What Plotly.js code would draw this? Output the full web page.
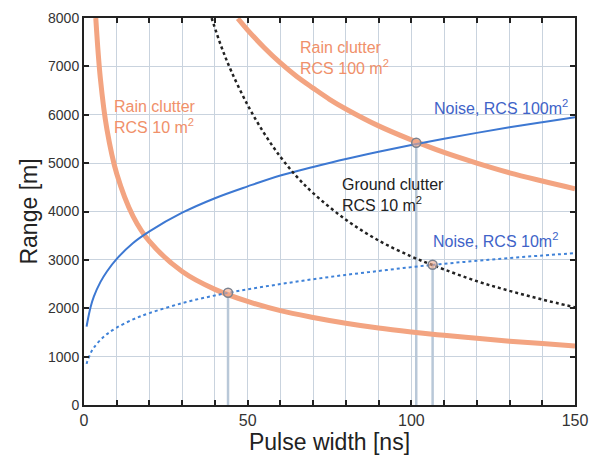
<!DOCTYPE html>
<html>
<head>
<meta charset="utf-8">
<script src="https://cdn.plot.ly/plotly-3.0.1.min.js"></script>
<style>html,body{margin:0;padding:0;background:#fff;}#chart{width:591px;height:457px;}</style>
</head>
<body>
<div id="chart"></div>
<script>
// Noise-limited range, RCS 100 m^2 (solid blue)
const noise100X = [0.8, 1, 2, 3, 5, 7, 10, 15, 20, 30, 40, 50, 60, 70, 80, 90, 100, 110, 120, 130, 140, 150];
const noise100Y = [1620, 1700, 2020, 2240, 2540, 2760, 3020, 3350, 3590, 3975, 4275, 4520, 4745, 4920, 5085, 5235, 5375, 5505, 5625, 5740, 5845, 5950];
// Noise-limited range, RCS 10 m^2 (dotted blue)
const noise10X = [0.8, 1, 2, 3, 5, 7, 10, 15, 20, 30, 40, 50, 60, 70, 80, 90, 100, 110, 120, 130, 140, 150];
const noise10Y = [850, 900, 1070, 1185, 1345, 1465, 1600, 1770, 1900, 2105, 2265, 2390, 2500, 2600, 2690, 2770, 2850, 2920, 2980, 3040, 3090, 3140];
// Rain clutter, RCS 10 m^2 (orange)
const rain10X = [3.6, 5, 7, 10, 15, 20, 30, 40, 50, 60, 70, 80, 90, 100, 110, 120, 130, 140, 150];
const rain10Y = [8000, 6750, 5700, 4780, 3900, 3380, 2760, 2390, 2140, 1950, 1810, 1690, 1590, 1510, 1440, 1380, 1320, 1270, 1220];
// Rain clutter, RCS 100 m^2 (orange)
const rain100X = [47, 50, 55, 60, 65, 70, 75, 80, 90, 100, 110, 120, 130, 140, 150];
const rain100Y = [7990, 7750, 7390, 7070, 6790, 6550, 6320, 6120, 5770, 5480, 5220, 5000, 4800, 4630, 4470];
// Ground clutter, RCS 10 m^2 (black dotted)
const groundX = [39, 42, 45, 50, 55, 60, 65, 70, 80, 90, 100, 107, 120, 130, 140, 150];
const groundY = [8000, 7400, 6900, 6200, 5620, 5130, 4720, 4380, 3830, 3400, 3070, 2880, 2560, 2360, 2180, 2020];
// Intersection markers
const crossX = [44, 101.5, 106.5];
const crossY = [2320, 5420, 2900];
// Tick labels
const xTicks = [0, 50, 100, 150];
const yTicks = [0, 1000, 2000, 3000, 4000, 5000, 6000, 7000, 8000];

const orange = '#f3a481';
const traces = [];
crossX.forEach((cx, i) => {
  traces.push({x: [cx, cx], y: [0, crossY[i]], mode: 'lines', line: {color: '#b9c8d8', width: 2.5}, hoverinfo: 'skip', showlegend: false});
});
traces.push({x: rain10X, y: rain10Y, mode: 'lines', line: {color: orange, width: 5, shape: 'spline'}, showlegend: false});
traces.push({x: rain100X, y: rain100Y, mode: 'lines', line: {color: orange, width: 5, shape: 'spline'}, showlegend: false});
traces.push({x: noise100X, y: noise100Y, mode: 'lines', line: {color: '#3d78d2', width: 2, shape: 'spline'}, showlegend: false});
traces.push({x: noise10X, y: noise10Y, mode: 'lines', line: {color: '#3f82d8', width: 2, dash: 'dot', shape: 'spline'}, showlegend: false});
traces.push({x: groundX, y: groundY, mode: 'lines', line: {color: '#222', width: 2.5, dash: 'dot', shape: 'spline'}, showlegend: false});
traces.push({x: crossX, y: crossY, mode: 'markers', marker: {size: 9, color: 'rgba(240,170,140,0.6)', line: {color: '#7a8290', width: 1.5}}, showlegend: false});

const tf = {family: 'Liberation Sans, Arial, sans-serif'};
const ann = (x, y, text, color, xanchor) => ({x, y, xref: 'x', yref: 'y', text, showarrow: false, xanchor: xanchor || 'left', yanchor: 'middle', align: 'left', font: Object.assign({size: 16, color}, tf)});

const layout = {
  width: 591, height: 457,
  margin: {l: 84, r: 16, t: 18, b: 52},
  paper_bgcolor: '#fff', plot_bgcolor: '#fff',
  font: Object.assign({color: '#222'}, tf),
  xaxis: {
    range: [0, 150], tickvals: xTicks, ticktext: xTicks.map(String),
    ticks: 'inside', ticklen: 5, tickwidth: 2, tickcolor: '#222',
    showline: true, linecolor: '#222', linewidth: 2, mirror: 'ticks',
    showgrid: true, gridcolor: '#c9d3de', gridwidth: 1,
    minor: {dtick: 10, tick0: 0, ticks: 'inside', ticklen: 5, tickwidth: 2, tickcolor: '#222', showgrid: true, gridcolor: '#c9d3de', gridwidth: 1},
    zeroline: false, tickfont: {size: 16, color: '#333'},
    title: {text: 'Pulse width [ns]', font: {size: 23, color: '#222'}, standoff: 2}
  },
  yaxis: {
    range: [0, 8000], tickvals: yTicks, ticktext: yTicks.map(String),
    ticks: 'inside', ticklen: 5, tickwidth: 2, tickcolor: '#222',
    showline: true, linecolor: '#222', linewidth: 2, mirror: 'ticks',
    showgrid: true, gridcolor: '#c9d3de', gridwidth: 1,
    zeroline: false, tickfont: {size: 14, color: '#333'},
    title: {text: 'Range [m]', font: {size: 23, color: '#222'}, standoff: 4}
  },
  annotations: [
    ann(8.6, 5960, 'Rain clutter<br>RCS 10 m<sup>2</sup>', '#f0906a'),
    ann(65.4, 7180, 'Rain clutter<br>RCS 100 m<sup>2</sup>', '#f0906a'),
    ann(148.5, 6170, 'Noise, RCS 100m<sup>2</sup>', '#4063c8', 'right'),
    ann(78.3, 4350, 'Ground clutter<br>RCS 10 m<sup>2</sup>', '#222'),
    ann(145.5, 3415, 'Noise, RCS 10m<sup>2</sup>', '#4063c8', 'right')
  ]
};
Plotly.newPlot('chart', traces, layout, {staticPlot: true});
</script>
</body>
</html>
